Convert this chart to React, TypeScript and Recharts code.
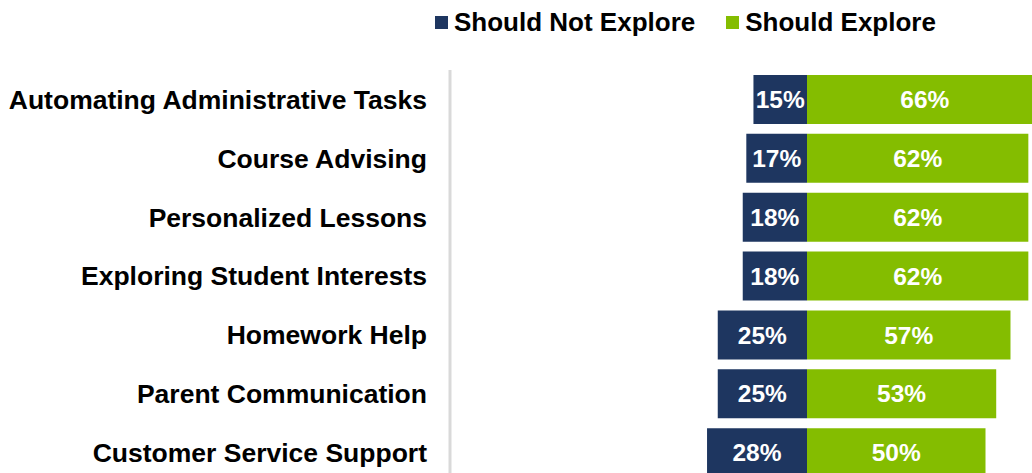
import React from "react";
import { BarChart, Bar, XAxis, YAxis, Legend, LabelList } from "recharts";

const categories = [
  "Automating Administrative Tasks",
  "Course Advising",
  "Personalized Lessons",
  "Exploring Student Interests",
  "Homework Help",
  "Parent Communication",
  "Customer Service Support",
];
const seriesNames = ["Should Not Explore", "Should Explore"];
const shouldNotExplore = [15, 17, 18, 18, 25, 25, 28];
const shouldExplore = [66, 62, 62, 62, 57, 53, 50];

const NAVY = "#1e3660";
const GREEN = "#84bd00";
const FONT = "'Liberation Sans', Arial, sans-serif";

const data = categories.map((c, i) => ({
  name: c,
  notExplore: -shouldNotExplore[i],
  explore: shouldExplore[i],
}));

const fmt = (v: any) => `${Math.abs(Number(v))}%`;

const renderLegend = (props: any) => {
  const payload = [...(props.payload || [])].sort(
    (a: any, b: any) => seriesNames.indexOf(a.value) - seriesNames.indexOf(b.value)
  );
  return (
    <div style={{ display: "flex", alignItems: "center", gap: 31, whiteSpace: "nowrap" }}>
      {payload.map((p: any) => (
        <div key={p.value} style={{ display: "flex", alignItems: "center" }}>
          <span style={{ display: "inline-block", width: 13, height: 13, background: p.color, marginRight: 6 }} />
          <span style={{ fontFamily: FONT, fontWeight: "bold", fontSize: 26, color: "#000", lineHeight: "30px" }}>{p.value}</span>
        </div>
      ))}
    </div>
  );
};

export default function App() {
  return (
    <div style={{ position: "fixed", left: 0, top: 0, width: 1032, height: 473, overflow: "hidden", background: "#fff" }}>
      <BarChart
        width={1164}
        height={490}
        data={data}
        layout="vertical"
        stackOffset="sign"
        barSize={49}
        margin={{ top: 70, right: 0, bottom: 8, left: 0 }}
      >
        <XAxis type="number" domain={[-100, 100]} hide allowDataOverflow />
        <YAxis
          type="category"
          dataKey="name"
          width={450}
          tickLine={false}
          tickSize={0}
          tickMargin={23}
          axisLine={{ stroke: "#d9d9d9", strokeWidth: 3 }}
          tick={{ fill: "#000", fontSize: 26.5, fontWeight: "bold", fontFamily: FONT }}
          interval={0}
        />
        <Legend
          layout="horizontal"
          verticalAlign="middle"
          align="center"
          content={renderLegend}
          wrapperStyle={{ top: 7, left: 435, width: "auto", height: "auto" }}
        />
        <Bar dataKey="notExplore" name={seriesNames[0]} stackId="a" fill={NAVY} isAnimationActive={false}>
          <LabelList dataKey="notExplore" position="center" formatter={fmt} fill="#fff" fontSize={24.5} fontWeight="bold" fontFamily={FONT} />
        </Bar>
        <Bar dataKey="explore" name={seriesNames[1]} stackId="a" fill={GREEN} isAnimationActive={false}>
          <LabelList dataKey="explore" position="center" formatter={fmt} fill="#fff" fontSize={24.5} fontWeight="bold" fontFamily={FONT} />
        </Bar>
      </BarChart>
    </div>
  );
}
